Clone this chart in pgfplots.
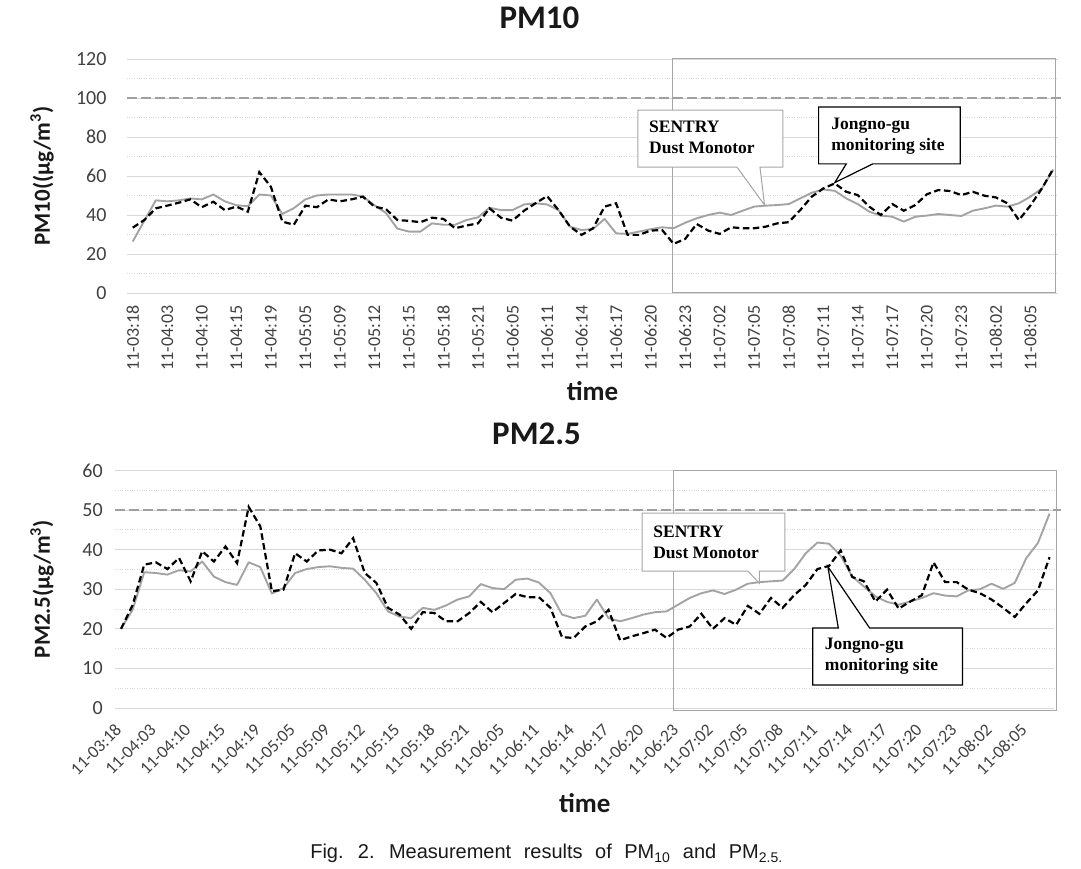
\documentclass[border=0pt]{standalone}
\usepackage{pgfplots}
\pgfplotsset{compat=1.18}
\usepackage{pgfplotstable}
\usepackage{fontspec}
\setmainfont{Carlito}
\newfontfamily\annfont{Liberation Serif}
\newfontfamily\capfont{Liberation Sans}
\definecolor{gridc}{HTML}{D9D9D9}
\definecolor{sentc}{HTML}{A3A3A3}
\definecolor{refc}{HTML}{A0A0A0}
\definecolor{tickc}{HTML}{404040}
\definecolor{boxc}{HTML}{A6A6A6}

\pgfplotstableread{
i s j
0 26.4 33.5
1 37.0 37.4
2 47.5 43.4
3 47.0 44.8
4 47.5 46.3
5 48.5 48.0
6 48.0 44.0
7 50.5 46.8
8 47.0 42.5
9 45.0 44.3
10 44.5 41.7
11 50.5 62.0
12 50.0 54.5
13 40.5 36.6
14 43.5 35.0
15 48.0 44.8
16 50.0 44.0
17 50.5 48.0
18 50.5 47.0
19 50.5 48.0
20 49.5 49.4
21 45.0 44.3
22 41.0 43.0
23 33.0 37.4
24 31.5 37.0
25 31.5 36.3
26 35.7 38.6
27 35.0 38.0
28 35.0 33.2
29 37.4 34.6
30 38.8 35.7
31 43.7 43.4
32 42.5 38.6
33 42.5 37.1
34 45.4 42.2
35 46.0 46.0
36 45.4 49.7
37 42.5 42.5
38 34.0 34.0
39 32.3 29.8
40 32.8 33.2
41 38.0 44.3
42 30.6 46.0
43 30.3 29.8
44 31.5 29.8
45 32.7 32.0
46 33.7 32.3
47 33.2 25.2
48 36.0 27.7
49 38.3 35.4
50 40.0 32.0
51 41.2 30.3
52 40.0 33.7
53 42.2 33.2
54 44.3 33.2
55 44.8 34.0
56 45.1 35.7
57 45.6 36.3
58 48.5 42.5
59 51.4 49.4
60 53.1 53.6
61 52.4 56.2
62 48.5 51.9
63 45.6 50.2
64 41.7 44.3
65 39.7 40.0
66 39.1 45.6
67 36.6 42.2
68 39.1 45.1
69 39.7 50.6
70 40.5 52.8
71 40.0 52.3
72 39.5 50.2
73 42.2 51.9
74 43.4 49.9
75 44.8 49.0
76 44.3 46.0
77 46.0 37.4
78 49.4 44.8
79 53.6 53.6
80 63.3 63.8
}\pmten

\pgfplotstableread{
i s j
0 20.0 20.0
1 24.8 26.0
2 34.3 36.2
3 34.1 36.8
4 33.7 35.1
5 34.8 37.9
6 34.5 32.0
7 37.0 39.6
8 33.2 37.0
9 31.8 40.8
10 31.1 36.6
11 36.8 50.8
12 35.6 45.9
13 28.9 29.5
14 30.3 29.9
15 34.1 39.1
16 35.1 37.0
17 35.6 39.8
18 35.8 40.0
19 35.4 39.1
20 35.2 42.9
21 32.4 34.1
22 29.0 31.6
23 24.4 25.3
24 23.1 23.6
25 22.7 20.0
26 25.3 24.2
27 24.8 24.0
28 25.9 21.9
29 27.4 21.9
30 28.2 24.0
31 31.3 26.8
32 30.3 24.2
33 30.0 26.5
34 32.4 28.8
35 32.7 28.0
36 31.7 28.0
37 29.0 25.3
38 23.6 17.9
39 22.7 17.7
40 23.3 20.6
41 27.4 21.9
42 22.7 24.8
43 21.9 17.1
44 22.7 18.1
45 23.6 18.9
46 24.2 19.8
47 24.4 17.7
48 26.1 19.8
49 27.8 20.6
50 29.0 23.8
51 29.7 20.0
52 28.8 22.7
53 29.9 21.0
54 31.4 25.8
55 31.8 23.8
56 32.0 27.8
57 32.2 25.3
58 35.1 28.5
59 39.1 31.1
60 41.8 35.1
61 41.5 35.9
62 38.5 39.8
63 33.2 33.1
64 30.7 32.0
65 28.2 26.9
66 26.8 29.9
67 26.1 25.1
68 26.9 26.9
69 27.8 28.5
70 29.0 36.8
71 28.4 31.8
72 28.2 31.8
73 29.7 29.9
74 30.0 29.0
75 31.4 27.4
76 30.1 25.3
77 31.6 23.0
78 37.9 26.5
79 41.7 29.7
80 49.1 38.1
}\pmtwo

\pgfplotsset{
  common/.style={
    scale only axis,
    xmin=-0.5, xmax=80.4,
    axis line style={draw=none},
    major tick length=0pt, minor tick length=0pt,
    ymajorgrids, yminorgrids, minor y tick num=1,
    major grid style={draw=gridc, line width=0.9pt},
    minor grid style={draw=gridc, dotted, line width=0.9pt},
    xtick={0,3,...,78},
    xticklabels={11-03:18,11-04:03,11-04:10,11-04:15,11-04:19,11-05:05,11-05:09,11-05:12,11-05:15,11-05:18,11-05:21,11-06:05,11-06:11,11-06:14,11-06:17,11-06:20,11-06:23,11-07:02,11-07:05,11-07:08,11-07:11,11-07:14,11-07:17,11-07:20,11-07:23,11-08:02,11-08:05},
    clip=false,
    /pgf/number format/assume math mode=true,
    tick label style={text=tickc},
    yticklabel style={font=\fontsize{20}{24}\selectfont},
    xlabel={\bfseries time},
    xlabel style={font=\fontsize{27}{30}\selectfont, anchor=base, text=black!90},
    title style={font=\fontsize{33}{36}\selectfont\bfseries, anchor=base, text=black!90},
    ylabel style={font=\fontsize{23}{26}\selectfont\bfseries, anchor=center, text=black!90},
  },
  sent/.style={draw=sentc, line width=1.9pt, line join=round},
  jong/.style={draw=black, line width=2.2pt, dash pattern=on 6.5pt off 3.5pt},
}

\begin{document}
\begin{tikzpicture}
\useasboundingbox (0,0) rectangle (1081pt,869pt);

% ---------- PM10 ----------
\begin{axis}[common,
  at={(127pt,576pt)}, anchor=south west,
  width=931pt, height=234pt,
  ymin=0, ymax=120, ytick={0,20,...,120},
  yticklabel style={xshift=-17pt},
  xticklabel style={font=\fontsize{18}{20}\selectfont, yshift=-9pt, rotate=90, anchor=east},
  title={PM10},
  title style={at={(axis description cs:0.443,1)}, yshift=24pt},
  xlabel style={at={(axis description cs:0.5,0)}, yshift=-108pt},
  ylabel={PM10((µg/m\textsuperscript{3})},
  ylabel style={at={(axis description cs:-0.0913,0.5)}},
]
\draw[boxc, line width=1pt] (axis cs:46.9,0) rectangle (axis cs:80.2,120.5);
\draw[refc, line width=2pt, dash pattern=on 10pt off 4pt] (axis cs:-0.5,100) -- (axis cs:80.9,100);
\addplot[sent] table[x=i, y=s] {\pmten};
\addplot[jong] table[x=i, y=j] {\pmten};
% callouts
\draw[boxc, line width=1pt, fill=white]
  (axis cs:43.9,93.8) -- (axis cs:56.5,93.8) -- (axis cs:56.5,64.6) -- (axis cs:54.5,64.6)
  -- (axis cs:54.9,45.1) -- (axis cs:52.5,64.6) -- (axis cs:43.9,64.6) -- cycle;
\node[anchor=north west, inner sep=0pt, align=left, font=\annfont\bfseries\fontsize{17.5}{21}\selectfont, xshift=11pt, yshift=-11pt]
  at (axis cs:43.9,93.8) {SENTRY\\Dust Monotor};
\draw[black, line width=1.2pt, fill=white]
  (axis cs:59.6,95.4) -- (axis cs:71.9,95.4) -- (axis cs:71.9,66.2) -- (axis cs:64.3,66.2)
  -- (axis cs:61.0,56.6) -- (axis cs:62.0,66.2) -- (axis cs:59.6,66.2) -- cycle;
\node[anchor=north west, inner sep=0pt, align=left, font=\annfont\bfseries\fontsize{17.5}{21}\selectfont, xshift=12.5pt, yshift=-11pt]
  at (axis cs:59.6,95.4) {Jongno-gu\\monitoring site};
\end{axis}

% ---------- PM2.5 ----------
\begin{axis}[common,
  at={(115.2pt,161pt)}, anchor=south west,
  width=939pt, height=237.5pt,
  ymin=0, ymax=60, ytick={0,10,...,60}, minor y tick num=1,
  ymajorgrids, yminorgrids,
  yticklabel style={xshift=-9pt},
  xticklabel style={font=\fontsize{17.5}{20}\selectfont, xshift=-7pt, yshift=-10pt, rotate=45, anchor=north east},
  title={PM2.5},
  title style={at={(axis description cs:0.4487,1)}, yshift=20pt},
  xlabel style={at={(axis description cs:0.5,0)}, yshift=-105pt},
  ylabel={PM2.5(µg/m\textsuperscript{3})},
  ylabel style={at={(axis description cs:-0.078,0.5)}},
]
\draw[boxc, line width=1pt] (axis cs:47.6,-0.7) rectangle (axis cs:80.6,60);
\draw[refc, line width=2pt, dash pattern=on 10pt off 4pt] (axis cs:-0.5,50) -- (axis cs:81.0,50);
\addplot[sent] table[x=i, y=s] {\pmtwo};
\addplot[jong] table[x=i, y=j] {\pmtwo};
\draw[boxc, line width=1pt, fill=white]
  (axis cs:44.9,49.2) -- (axis cs:57.2,49.2) -- (axis cs:57.2,34.6) -- (axis cs:55.0,34.6)
  -- (axis cs:55.0,31.5) -- (axis cs:54.0,34.6) -- (axis cs:44.9,34.6) -- cycle;
\node[anchor=north west, inner sep=0pt, align=left, font=\annfont\bfseries\fontsize{17.5}{21}\selectfont, xshift=11pt, yshift=-12pt]
  at (axis cs:44.9,49.2) {SENTRY\\Dust Monotor};
\draw[black, line width=1.2pt, fill=white]
  (axis cs:59.6,5.8) -- (axis cs:72.5,5.8) -- (axis cs:72.5,20.2) -- (axis cs:64.5,20.2)
  -- (axis cs:60.9,35.7) -- (axis cs:61.8,20.2) -- (axis cs:59.6,20.2) -- cycle;
\node[anchor=north west, inner sep=0pt, align=left, font=\annfont\bfseries\fontsize{17.5}{21}\selectfont, xshift=12pt, yshift=-10pt]
  at (axis cs:59.6,20.2) {Jongno-gu\\monitoring site};
\end{axis}

% caption
\node[anchor=base, inner sep=0pt, font=\capfont\fontsize{20}{23}\selectfont, text=black!90]
  at (546.5pt,10pt) {\spaceskip=12.5pt Fig. 2. Measurement results of PM\textsubscript{10} and PM\textsubscript{2.5.}};
\end{tikzpicture}
\end{document}
